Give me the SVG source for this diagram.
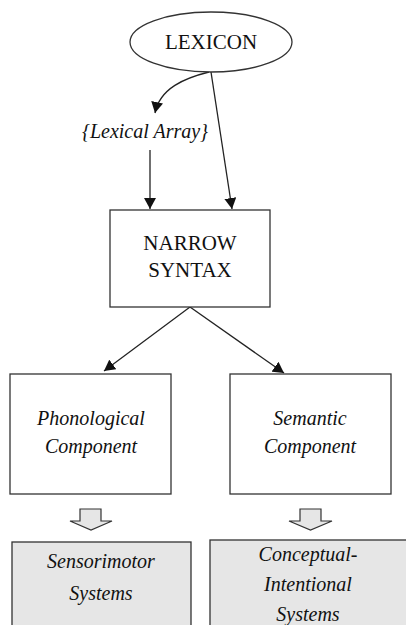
<svg xmlns="http://www.w3.org/2000/svg" width="406" height="625" viewBox="0 0 406 625">
<defs>
<marker id="ah" markerWidth="12" markerHeight="12" refX="11" refY="6" orient="auto" markerUnits="userSpaceOnUse">
<path d="M0,0 L11,6 L0,12 Z" fill="#111"/>
</marker>
</defs>
<style>
.box{fill:#fff;stroke:#333;stroke-width:1.3}
.gbox{fill:#e6e6e6;stroke:#333;stroke-width:1.3}
text{font-family:'Liberation Serif','Times New Roman',serif;font-size:20px;fill:#111;text-anchor:middle}
.u{font-size:21px}
.i{font-style:italic}
.c{fill:none;stroke:#222;stroke-width:1.3}
.ha{fill:#e6e6e6;stroke:#333;stroke-width:1.2}
</style>
<rect width="406" height="625" fill="#fff"/>
<g id="connectors">
<path class="c" d="M209,72 C185,78 160,88 155,113" marker-end="url(#ah)"/>
<line class="c" x1="211" y1="72" x2="232" y2="209" marker-end="url(#ah)"/>
<line class="c" x1="150" y1="150" x2="150" y2="209" marker-end="url(#ah)"/>
<line class="c" x1="190" y1="307" x2="104" y2="371" marker-end="url(#ah)"/>
<line class="c" x1="190" y1="307" x2="284" y2="373" marker-end="url(#ah)"/>
<path class="ha" d="M80,509 H101 V521 H112 L91,530 L70,521 H80 Z"/>
<path class="ha" d="M300,509 H321 V521 H332 L310.5,530 L289,521 H300 Z"/>
</g>
<g id="lexicon">
<ellipse cx="211" cy="42" rx="81" ry="30" fill="#fff" stroke="#333" stroke-width="1.3"/>
<text class="u" x="211" y="49">LEXICON</text>
</g>
<g id="lexical-array">
<text class="i" x="145" y="138">{Lexical Array}</text>
</g>
<g id="narrow-syntax">
<rect class="box" x="110" y="210" width="160" height="97"/>
<text class="u" x="190" y="250">NARROW</text>
<text class="u" x="190" y="277">SYNTAX</text>
</g>
<g id="phonological">
<rect class="box" x="10" y="374" width="161" height="120"/>
<text class="i" x="91" y="425">Phonological</text>
<text class="i" x="91" y="453">Component</text>
</g>
<g id="semantic">
<rect class="box" x="230" y="374" width="161" height="120"/>
<text class="i" x="310" y="425">Semantic</text>
<text class="i" x="310" y="453">Component</text>
</g>
<g id="sensorimotor">
<rect class="gbox" x="12" y="542" width="179" height="100"/>
<text class="i" x="101" y="568">Sensorimotor</text>
<text class="i" x="101" y="600">Systems</text>
</g>
<g id="conceptual">
<rect class="gbox" x="210" y="540" width="205" height="100"/>
<text class="i" x="308" y="561">Conceptual-</text>
<text class="i" x="308" y="591">Intentional</text>
<text class="i" x="308" y="621">Systems</text>
</g>
</svg>
